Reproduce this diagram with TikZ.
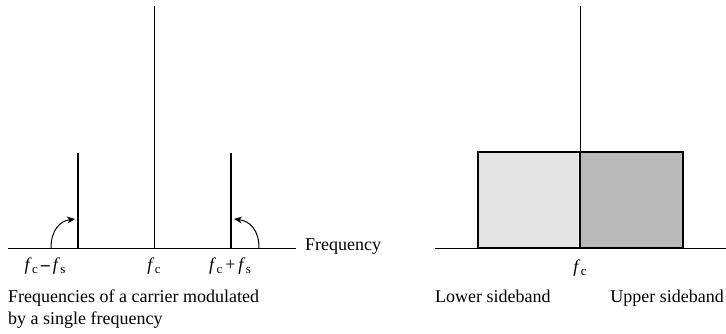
\documentclass[tikz,border=0pt]{standalone}
\usepackage{fontspec}
\setmainfont{Liberation Serif}
\usetikzlibrary{arrows.meta}
\newcommand{\fc}{\textit{f}\kern0.3pt\raisebox{-0.4ex}{\fontsize{13}{13}\selectfont c}}
\newcommand{\fs}{\textit{f}\kern0.3pt\raisebox{-0.4ex}{\fontsize{13}{13}\selectfont s}}
\begin{document}
\begin{tikzpicture}[x=1pt,y=-1pt,
  thinline/.style={line width=1pt},
  thickline/.style={line width=2.6pt},
  lbl/.style={font=\fontsize{18}{22}\selectfont, inner sep=0pt},
  curvarrow/.style={line width=1pt,-{Stealth[length=8pt,width=7pt]}}]
\useasboundingbox (0,0) rectangle (726,334);
% left panel
\coordinate (a0) at (8,248);
\coordinate (a1) at (296,248);
\draw[thinline] (a0) -- (a1);
\coordinate (c0) at (154,248);
\coordinate (c1) at (154,6);
\draw[thinline] (c0) -- (c1);
\coordinate (l0) at (78,248);
\coordinate (l1) at (78,153);
\draw[thickline] (l0) -- (l1);
\coordinate (r0) at (231,248);
\coordinate (r1) at (231,153);
\draw[thickline] (r0) -- (r1);
\coordinate (la) at (51,248);
\coordinate (lb) at (75,219);
\draw[curvarrow] (la) .. controls (51,230) and (60,221) .. (lb);
\coordinate (ra) at (259,248);
\coordinate (rb) at (234,219);
\draw[curvarrow] (ra) .. controls (259,230) and (250,221) .. (rb);
\node[lbl] (t1) at (45,266) {\fc\,\textbf{--}\,\fs};
\node[lbl] (t2) at (154,266) {\fc};
\node[lbl] (t3) at (230,266) {\fc\,+\,\fs};
\node[lbl,anchor=west] (t4) at (305,247) {Frequency};
\node[lbl,anchor=north west,align=left] (cap) at (8,290) {Frequencies of a carrier modulated\\by a single frequency};
% right panel
\coordinate (b0) at (435,248);
\coordinate (b1) at (726,248);
\draw[thinline] (b0) -- (b1);
\fill[fill=black!10] (478,152) rectangle (580,248);
\fill[fill=black!27] (580,152) rectangle (683,248);
\draw[line width=2.4pt] (478,152) rectangle (683,248);
\coordinate (v0) at (580,248);
\coordinate (v1) at (580,152);
\draw[line width=2.4pt] (v0) -- (v1);
\coordinate (v2) at (580,6);
\draw[thinline] (v1) -- (v2);
\node[lbl] (t5) at (580,268) {\fc};
\node[lbl,anchor=base west] (t6) at (435,302) {Lower sideband};
\node[lbl,anchor=base east] (t7) at (724,302) {Upper sideband};
\end{tikzpicture}
\end{document}
